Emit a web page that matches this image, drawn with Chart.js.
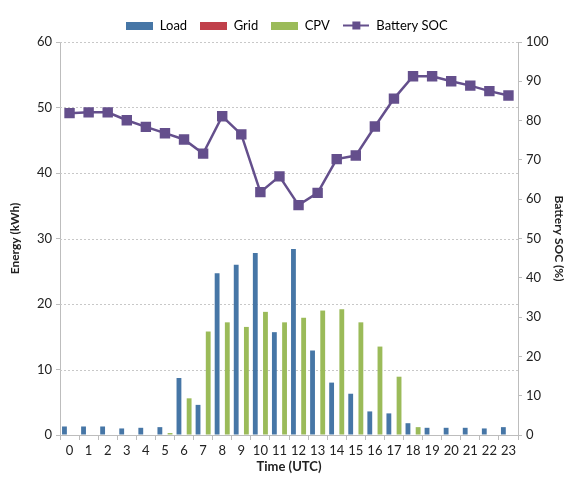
<!DOCTYPE html>
<html>
<head>
<meta charset="utf-8">
<script src="https://cdn.jsdelivr.net/npm/chart.js@4.4.0/dist/chart.umd.min.js"></script>
<style>
  html, body { margin: 0; padding: 0; background: #fff; }
  #wrap { width: 574px; height: 479px; }
</style>
</head>
<body>
<div id="wrap"><canvas id="energyChart"></canvas></div>
<script>
// hours of the day
const hours = ['0','1','2','3','4','5','6','7','8','9','10','11','12','13','14','15','16','17','18','19','20','21','22','23'];
// energy (kWh)
const loadVals = [1.3, 1.3, 1.3, 1.0, 1.1, 1.2, 8.7, 4.6, 24.7, 26.0, 27.8, 15.7, 28.4, 12.9, 8.0, 6.3, 3.6, 3.3, 1.8, 1.1, 1.1, 1.1, 1.0, 1.2];
const gridVals = [0, 0, 0, 0, 0, 0, 0, 0, 0, 0, 0, 0, 0, 0, 0, 0, 0, 0, 0, 0, 0, 0, 0, 0];
const cpvVals = [0, 0, 0, 0, 0, 0.3, 5.6, 15.8, 17.2, 16.5, 18.8, 17.2, 17.9, 19.0, 19.2, 17.2, 13.5, 8.9, 1.2, 0, 0, 0, 0, 0];
// battery state of charge (%)
const socVals = [81.9, 82.1, 82.1, 80.1, 78.4, 76.8, 75.2, 71.6, 81.1, 76.5, 61.8, 65.8, 58.5, 61.6, 70.2, 71.1, 78.5, 85.6, 91.3, 91.3, 90.0, 88.9, 87.5, 86.4];

const energyTicks = [0, 10, 20, 30, 40, 50, 60];
const socTicks = [0, 10, 20, 30, 40, 50, 60, 70, 80, 90, 100];

const colLoad = '#4676a6';
const colGrid = '#c0404a';
const colCpv = '#9bbb59';
const colSoc = '#644f8c';

const font = 'Lato, "Open Sans", sans-serif';

// little legend swatches
function barSwatch(color) {
  const c = document.createElement('canvas');
  c.width = 27; c.height = 8;
  const ctx = c.getContext('2d');
  ctx.fillStyle = color;
  ctx.fillRect(0, 0, 27, 8);
  return c;
}
function lineSwatch(color) {
  const c = document.createElement('canvas');
  c.width = 26; c.height = 10;
  const ctx = c.getContext('2d');
  ctx.fillStyle = color;
  ctx.fillRect(0, 4, 26, 2);
  ctx.fillRect(9, 1, 8, 8);
  return c;
}
const swatches = [barSwatch(colLoad), barSwatch(colGrid), barSwatch(colCpv), lineSwatch(colSoc)];

new Chart(document.getElementById('energyChart'), {
  data: {
    labels: hours,
    datasets: [
      {
        type: 'line',
        label: 'Battery SOC',
        data: socVals,
        yAxisID: 'y1',
        borderColor: colSoc,
        backgroundColor: colSoc,
        borderWidth: 2.5,
        pointStyle: 'rect',
        pointRadius: 5.6,
        pointBackgroundColor: colSoc,
        pointBorderColor: colSoc,
        tension: 0,
        order: 0
      },
      {
        type: 'bar',
        label: 'Load',
        data: loadVals,
        yAxisID: 'y',
        backgroundColor: colLoad,
        categoryPercentage: 0.8,
        barPercentage: 0.95,
        order: 1
      },
      {
        type: 'bar',
        label: 'Grid',
        data: gridVals,
        yAxisID: 'y',
        backgroundColor: colGrid,
        categoryPercentage: 0.8,
        barPercentage: 0.95,
        order: 2
      },
      {
        type: 'bar',
        label: 'CPV',
        data: cpvVals,
        yAxisID: 'y',
        backgroundColor: colCpv,
        categoryPercentage: 0.8,
        barPercentage: 0.95,
        order: 3
      }
    ]
  },
  options: {
    responsive: true,
    maintainAspectRatio: false,
    animation: false,
    layout: { padding: { top: 6, left: 4, right: 4, bottom: 0 } },
    plugins: {
      tooltip: { enabled: false },
      legend: {
        position: 'top',
        labels: {
          usePointStyle: true,
          pointStyleWidth: 27,
          padding: 13,
          color: '#222',
          font: { family: font, size: 13 },
          generateLabels: (chart) => {
            const order = ['Load', 'Grid', 'CPV', 'Battery SOC'];
            return order.map((name, i) => {
              const idx = chart.data.datasets.findIndex(d => d.label === name);
              return {
                text: name,
                pointStyle: swatches[i],
                fillStyle: 'transparent',
                strokeStyle: 'transparent',
                lineWidth: 0,
                hidden: false,
                datasetIndex: idx
              };
            });
          }
        }
      }
    },
    scales: {
      x: {
        offset: true,
        grid: {
          display: true,
          drawOnChartArea: false,
          offset: true,
          tickLength: 5,
          color: '#bdbdbd'
        },
        border: { color: '#bdbdbd' },
        ticks: { color: '#222', font: { family: font, size: 13 }, maxRotation: 0, autoSkip: false, padding: 3 },
        title: { display: true, text: 'Time (UTC)', color: '#222', font: { family: font, size: 13, weight: 'bold' }, padding: { top: 4 } },
        afterFit: (axis) => { axis.height = 44; }
      },
      y: {
        position: 'left',
        min: 0,
        max: 60,
        afterBuildTicks: (axis) => { axis.ticks = energyTicks.map(v => ({ value: v })); },
        grid: {
          drawOnChartArea: false,
          tickLength: 4,
          color: '#bdbdbd'
        },
        border: { color: '#bdbdbd' },
        ticks: { color: '#222', font: { family: font, size: 13 }, padding: 4 },
        title: { display: true, text: 'Energy (kWh)', color: '#222', font: { family: font, size: 12, weight: 'bold' }, padding: { bottom: 6 } },
        afterFit: (axis) => { axis.width = 56; }
      },
      y1: {
        position: 'right',
        min: 0,
        max: 100,
        afterBuildTicks: (axis) => { axis.ticks = socTicks.map(v => ({ value: v })); },
        grid: { drawOnChartArea: false, tickLength: 4, color: '#bdbdbd' },
        border: { color: '#bdbdbd' },
        ticks: { color: '#222', font: { family: font, size: 13 }, padding: 4 },
        title: { display: true, text: 'Battery SOC (%)', color: '#222', font: { family: font, size: 12, weight: 'bold' }, padding: { top: 4 } },
        afterFit: (axis) => { axis.width = 52; }
      }
    }
  },
  plugins: [{
    // dotted horizontal gridlines like the original
    id: 'dottedGrid',
    beforeDatasetsDraw(chart) {
      const { ctx, chartArea, scales } = chart;
      ctx.save();
      ctx.strokeStyle = '#c8c8c8';
      ctx.lineWidth = 1;
      ctx.setLineDash([2, 2]);
      energyTicks.forEach(v => {
        if (v === 0) return;
        const y = Math.round(scales.y.getPixelForValue(v)) + 0.5;
        ctx.beginPath();
        ctx.moveTo(chartArea.left, y);
        ctx.lineTo(chartArea.right, y);
        ctx.stroke();
      });
      ctx.restore();
    }
  }]
});
</script>
</body>
</html>
